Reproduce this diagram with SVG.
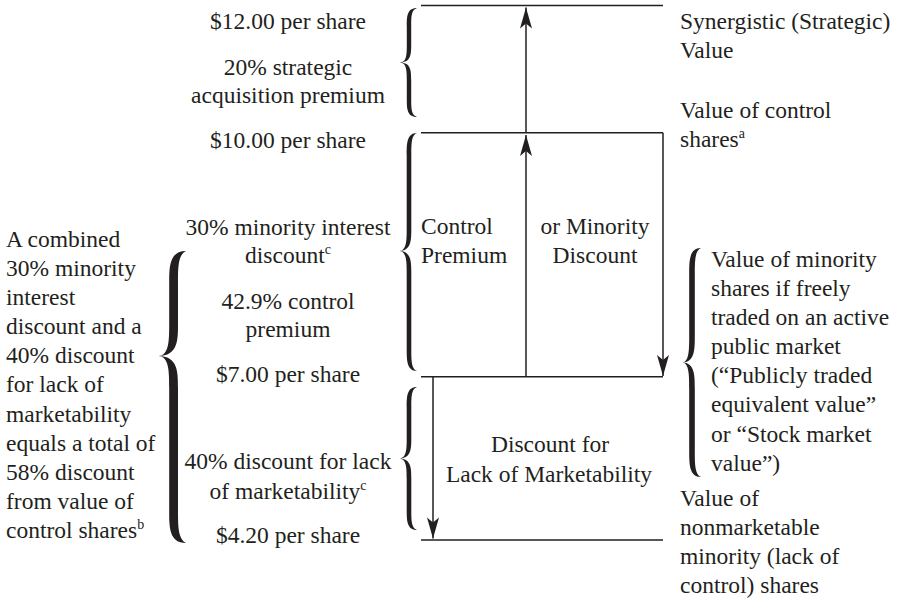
<svg xmlns="http://www.w3.org/2000/svg" width="897" height="608" viewBox="0 0 897 608">
<style>
text{font-family:"Liberation Serif","Times New Roman",serif;font-size:23.5px;fill:#231f20}
.m{text-anchor:middle}
.sup{font-size:14px}
.ln{stroke:#231f20;stroke-width:1.5;fill:none}
.br{fill:#231f20}
</style>
<defs>
<marker id="ah" markerUnits="userSpaceOnUse" markerWidth="24" markerHeight="14" viewBox="-22 -7 24 14" refX="0" refY="0" orient="auto">
<path d="M0,0 L-21,-6 L-16,0 L-21,6 Z" fill="#231f20"/>
</marker>
</defs>
<rect width="897" height="608" fill="#fff"/>
<g id="connectors">
<line class="ln" x1="421" y1="5.5" x2="663" y2="5.5"/>
<line class="ln" x1="421" y1="132.7" x2="663" y2="132.7"/>
<line class="ln" x1="421" y1="376.7" x2="663" y2="376.7"/>
<line class="ln" x1="421" y1="540" x2="663" y2="540"/>
<line class="ln" x1="526" y1="132.7" x2="526" y2="7.5" marker-end="url(#ah)"/>
<line class="ln" x1="526" y1="376.7" x2="526" y2="135" marker-end="url(#ah)"/>
<line class="ln" x1="663" y1="132.7" x2="663" y2="376" marker-end="url(#ah)"/>
<line class="ln" x1="433" y1="376.7" x2="433" y2="538.5" marker-end="url(#ah)"/>
</g>
<g id="braces">
<path class="br" d="M417,8 C406.8,8 406.8,17 406.8,26 L406.8,44.5 C406.8,53.5 406.8,62.5 400,62.5 C406.8,62.5 406.8,71.5 406.8,80.5 L406.8,99 C406.8,108 406.8,117 417,117 C411.2,115.2 411.2,108 411.2,99 L411.2,80.5 C411.2,71.5 411.2,62.5 400,62.5 C411.2,62.5 411.2,53.5 411.2,44.5 L411.2,26 C411.2,17 411.2,9.8 417,8 Z"/>
<path class="br" d="M417,133 C406.7,133 406.7,144 406.7,155 L406.7,229 C406.7,240 406.7,251 399,251 C406.7,251 406.7,262 406.7,273 L406.7,349 C406.7,360 406.7,371 417,371 C411.3,369.2 411.3,360 411.3,349 L411.3,273 C411.3,262 411.3,251 399,251 C411.3,251 411.3,240 411.3,229 L411.3,155 C411.3,144 411.3,134.8 417,133 Z"/>
<path class="br" d="M417,387 C406.7,387 406.7,397 406.7,407 L406.7,438.5 C406.7,448.5 406.7,458.5 399,458.5 C406.7,458.5 406.7,468.5 406.7,478.5 L406.7,510 C406.7,520 406.7,530 417,530 C411.3,528.2 411.3,520 411.3,510 L411.3,478.5 C411.3,468.5 411.3,458.5 399,458.5 C411.3,458.5 411.3,448.5 411.3,438.5 L411.3,407 C411.3,397 411.3,388.8 417,387 Z"/>
<path class="br" d="M186,251 C169.2,251 169.2,267 169.2,283 L169.2,324 C169.2,340 169.2,356 158,356 C169.2,356 169.2,372 169.2,388 L169.2,511 C169.2,527 169.2,543 186,543 C178,539 178,527 178,511 L178,388 C178,372 178,356 158,356 C178,356 178,340 178,324 L178,283 C178,267 178,255 186,251 Z"/>
<path class="br" d="M701,248 C689.2,248 689.2,261 689.2,274 L689.2,336.5 C689.2,349.5 689.2,362.5 682,362.5 C689.2,362.5 689.2,375.5 689.2,388.5 L689.2,451 C689.2,464 689.2,477 701,477 C694.8,474.5 694.8,464 694.8,451 L694.8,388.5 C694.8,375.5 694.8,362.5 682,362.5 C694.8,362.5 694.8,349.5 694.8,336.5 L694.8,274 C694.8,261 694.8,250.5 701,248 Z"/>
</g>
<g id="values">
<text class="m" x="288" y="29">$12.00 per share</text>
<text class="m" x="288" y="75">20% strategic</text>
<text class="m" x="288" y="103">acquisition premium</text>
<text class="m" x="288" y="148">$10.00 per share</text>
<text class="m" x="288" y="235">30% minority interest</text>
<text class="m" x="288" y="263">discount<tspan class="sup" dy="-9">c</tspan></text>
<text class="m" x="288" y="309">42.9% control</text>
<text class="m" x="288" y="337">premium</text>
<text class="m" x="288" y="382">$7.00 per share</text>
<text class="m" x="288" y="469">40% discount for lack</text>
<text class="m" x="288" y="499">of marketability<tspan class="sup" dy="-9">c</tspan></text>
<text class="m" x="288" y="543">$4.20 per share</text>
</g>
<g id="combined-note">
<text x="6" y="247">A combined</text>
<text x="6" y="276">30% minority</text>
<text x="6" y="305">interest</text>
<text x="6" y="334">discount and a</text>
<text x="6" y="363">40% discount</text>
<text x="6" y="392">for lack of</text>
<text x="6" y="422">marketability</text>
<text x="6" y="451">equals a total of</text>
<text x="6" y="480">58% discount</text>
<text x="6" y="509">from value of</text>
<text x="6" y="538">control shares<tspan class="sup" dy="-9">b</tspan></text>
</g>
<g id="band-labels">
<text x="421" y="234">Control</text>
<text x="421" y="263">Premium</text>
<text class="m" x="595" y="234">or Minority</text>
<text class="m" x="595" y="263">Discount</text>
<text class="m" x="550" y="452">Discount for</text>
<text class="m" x="549" y="482">Lack of Marketability</text>
</g>
<g id="synergistic">
<text x="680" y="29">Synergistic (Strategic)</text>
<text x="680" y="58">Value</text>
</g>
<g id="control-value">
<text x="680" y="118">Value of control</text>
<text x="680" y="147">shares<tspan class="sup" dy="-9">a</tspan></text>
</g>
<g id="minority-value">
<text x="711" y="267">Value of minority</text>
<text x="711" y="296">shares if freely</text>
<text x="711" y="325">traded on an active</text>
<text x="711" y="354">public market</text>
<text x="711" y="383">(“Publicly traded</text>
<text x="711" y="412">equivalent value”</text>
<text x="711" y="442">or “Stock market</text>
<text x="711" y="471">value”)</text>
</g>
<g id="nonmarketable-value">
<text x="680" y="506">Value of</text>
<text x="680" y="535">nonmarketable</text>
<text x="680" y="564">minority (lack of</text>
<text x="680" y="593">control) shares</text>
</g>
</svg>
